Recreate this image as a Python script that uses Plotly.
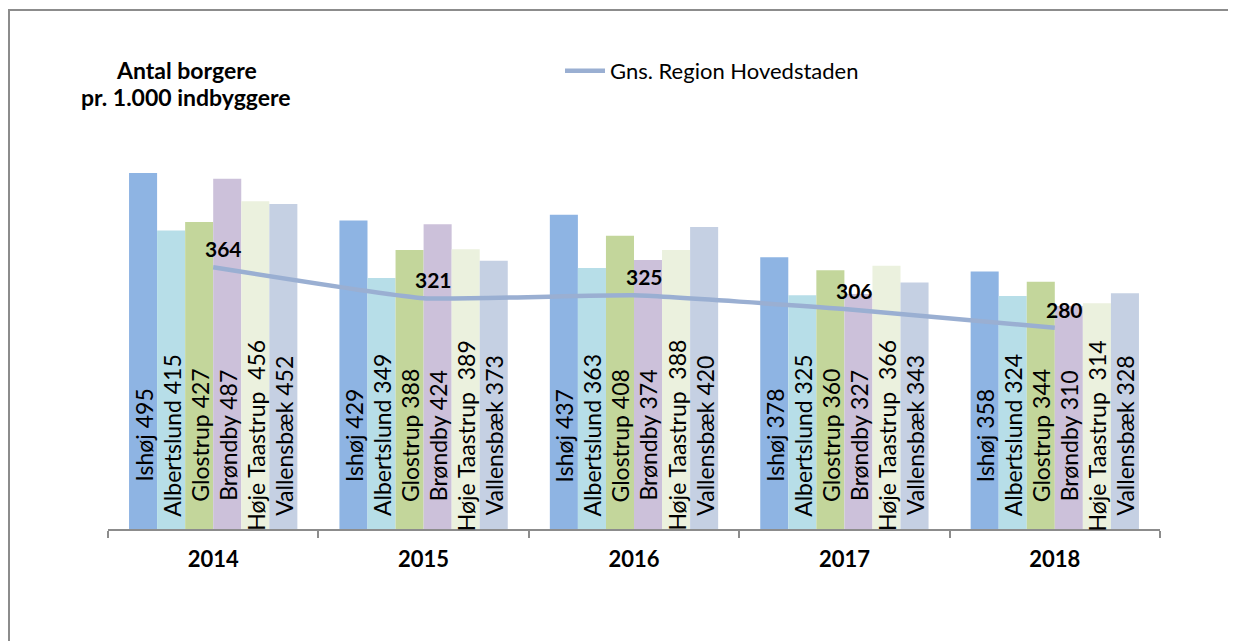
import plotly.graph_objects as go

years = ["2014", "2015", "2016", "2017", "2018"]
municipalities = ["Ishøj", "Albertslund", "Glostrup", "Brøndby", "Høje Taastrup", "Vallensbæk"]
ishoj = [495, 429, 437, 378, 358]
albertslund = [415, 349, 363, 325, 324]
glostrup = [427, 388, 408, 360, 344]
brondby = [487, 424, 374, 327, 310]
hoje_taastrup = [456, 389, 388, 366, 314]
vallensbaek = [452, 373, 420, 343, 328]
region_avg = [364, 321, 325, 306, 280]

series = [ishoj, albertslund, glostrup, brondby, hoje_taastrup, vallensbaek]
label_sep = [" ", " ", " ", " ", "  ", " "]
colors = ["#8EB4E3", "#B7DEE8", "#C3D69B", "#CCC1DA", "#EBF1DE", "#C5D0E3"]

FONT = "Lato"
W, H = 1236, 641
OFF = 8  # page offset of the figure in the browser window
# target plot area in screen pixels
SX0, SX1, SY0, SY1 = 108, 1160, 100, 529
ML, MR, MT, MB = SX0 - OFF, W - (SX1 - OFF), SY0 - OFF, H - (SY1 - OFF)
BARGAP = 0.2
plot_w = W - ML - MR
plot_h = H - MT - MB
cat_w = plot_w / len(years)
bar_w = cat_w * (1 - BARGAP) / len(series)


def px_x(p):
    return (p - SX0) / plot_w


def px_y(p):
    return (SY1 - p) / plot_h


fig = go.Figure()
for name, vals, col in zip(municipalities, series, colors):
    fig.add_trace(go.Bar(x=years, y=vals, name=name, marker=dict(color=col, line=dict(width=0)),
                         showlegend=False, hoverinfo="y"))

fig.add_trace(go.Scatter(x=years, y=region_avg, mode="lines", name="Gns. Region Hovedstaden",
                         line=dict(color="#9AAFD2", width=4.5, shape="spline", smoothing=0.4)))

annotations = []
# rotated labels inside bars (x given as category index)
for j, (name, vals, sep) in enumerate(zip(municipalities, series, label_sep)):
    for i in range(len(years)):
        annotations.append(dict(x=i, y=130, xref="x", yref="y", text=f"{name}{sep}{vals[i]}",
                                textangle=-90, showarrow=False, xanchor="center", yanchor="middle",
                                xshift=(j - (len(series) - 1) / 2) * bar_w,
                                font=dict(family=FONT, size=23, color="#000000")))
# line value labels
for i, v in enumerate(region_avg):
    annotations.append(dict(x=i, y=v, xref="x", yref="y", text=f"<b>{v}</b>", showarrow=False,
                            xanchor="center", yanchor="bottom", xshift=10, yshift=4,
                            font=dict(family=FONT, size=21, color="#000000")))
# title
annotations.append(dict(x=px_x(186), y=px_y(70), xref="paper", yref="paper", text="<b>Antal borgere</b>",
                        showarrow=False, xanchor="center", yanchor="middle",
                        font=dict(family=FONT, size=23, color="#000000")))
annotations.append(dict(x=px_x(186), y=px_y(97), xref="paper", yref="paper", text="<b>pr. 1.000 indbyggere</b>",
                        showarrow=False, xanchor="center", yanchor="middle",
                        font=dict(family=FONT, size=23, color="#000000")))

fig.update_layout(
    width=W, height=H,
    margin=dict(l=ML, r=MR, t=MT, b=MB, autoexpand=False),
    paper_bgcolor="white", plot_bgcolor="white",
    barmode="group", bargap=BARGAP, bargroupgap=0,
    font=dict(family=FONT, color="#000000"),
    annotations=annotations,
    legend=dict(x=px_x(560), y=px_y(71), xanchor="left", yanchor="middle", bgcolor="rgba(0,0,0,0)",
                font=dict(family=FONT, size=22, color="#000000"), itemwidth=40),
    shapes=[dict(type="rect", xref="paper", yref="paper", x0=px_x(OFF + 1), x1=px_x(1250), y0=px_y(660),
                 y1=px_y(10), line=dict(color="#8C8C8C", width=2), fillcolor="rgba(0,0,0,0)", layer="below")],
)
fig.update_xaxes(type="category", categoryorder="array", categoryarray=years, range=[-0.5, len(years) - 0.5],
                 showline=True, linecolor="#8C8C8C", linewidth=1.5, ticks="outside",
                 tickson="boundaries", ticklen=7, tickcolor="#8C8C8C", tickwidth=1.5, showgrid=False,
                 tickfont=dict(family=FONT, size=22, color="#000000", weight="bold"), ticklabelstandoff=10)
fig.update_yaxes(visible=False, range=[0, plot_h / 0.719], showgrid=False)

fig.write_html("out.html")
